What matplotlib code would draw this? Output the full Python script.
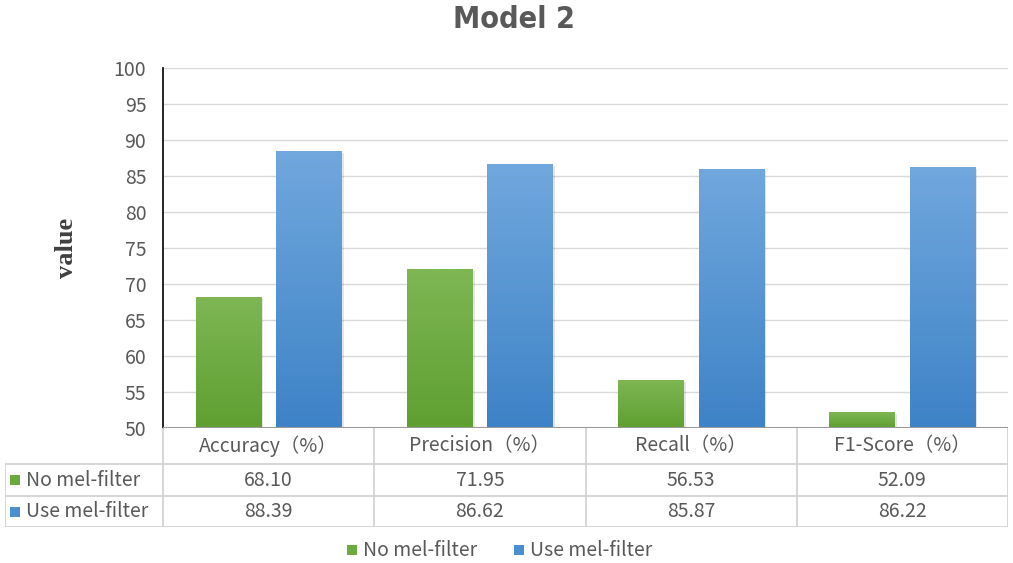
import numpy as np
import matplotlib
matplotlib.use("Agg")
import matplotlib.pyplot as plt
from matplotlib.colors import LinearSegmentedColormap
from matplotlib.patches import Rectangle

CJK = ['Noto Sans CJK SC', 'DejaVu Sans']
plt.rcParams['font.family'] = CJK
TXT = '#595959'

categories = ['Accuracy（%）', 'Precision（%）', 'Recall（%）', 'F1-Score（%）']
series_names = ['No mel-filter', 'Use mel-filter']
no_mel = [68.10, 71.95, 56.53, 52.09]
use_mel = [88.39, 86.62, 85.87, 86.22]
yticks = list(range(50, 101, 5))

grad = {
    'No mel-filter': ('#7db653', '#5f9f31'),
    'Use mel-filter': ('#70a7dd', '#3e83c7'),
}
key_col = {'No mel-filter': '#6aaa3e', 'Use mel-filter': '#4a8fd2'}

W, H = 1013, 563
fig = plt.figure(figsize=(W / 100, H / 100), dpi=100)

# main plot area (pixels: x 163..1008, y 68..428)
ax = fig.add_axes([163 / W, 1 - 428 / H, 845 / W, 360 / H])
ax.set_xlim(-0.5, 3.5)
ax.set_ylim(50, 100)
ax.set_yticks(yticks)
ax.set_yticklabels([str(t) for t in yticks], fontsize=14, color=TXT)
ax.set_xticks([])
ax.tick_params(axis='y', length=0, pad=12)
for s in ['top', 'right', 'bottom']:
    ax.spines[s].set_visible(False)
ax.spines['left'].set_color('black')
ax.spines['left'].set_linewidth(1.2)
ax.grid(axis='y', color='#d9d9d9', linewidth=1)
ax.set_axisbelow(True)

bw = 0.31
off = 0.19
x = np.arange(len(categories))
for vals, name, sgn in [(no_mel, series_names[0], -1), (use_mel, series_names[1], 1)]:
    top, bot = grad[name]
    cmap = LinearSegmentedColormap.from_list(name, [bot, top])
    for xi, v in zip(x, vals):
        x0 = xi + sgn * off - bw / 2
        # soft shadow
        ax.add_patch(Rectangle((x0 + 0.01, 50), bw, v - 50 - 0.2, color='#000000', alpha=0.10, lw=0, zorder=2))
        img = np.linspace(1, 0, 64).reshape(-1, 1)
        ax.imshow(img, cmap=cmap, aspect='auto', extent=[x0, x0 + bw, 50, v], zorder=3)
ax.set_xlim(-0.5, 3.5)
ax.set_ylim(50, 100)
ax.axhline(50, color='#9a9a9a', linewidth=1.5, zorder=4)

ax.set_ylabel('value', fontsize=19, fontweight='bold', family=['Liberation Serif', 'DejaVu Serif'],
              color='#404040', labelpad=26)

fig.text(0.507, 1 - 20 / H, 'Model 2', ha='center', va='center', fontsize=22, fontweight='bold',
         fontstretch='condensed', family=['DejaVu Sans'], color='#595959')

# data table below the axis (pixels: x 5..1008, y 428..527)
left_w = 158 / 211.25
tab = fig.add_axes([5 / W, 1 - 527 / H, 1003 / W, 99 / H])
tab.set_xlim(-0.5 - left_w, 3.5)
tab.set_ylim(0, 99)
tab.axis('off')
row_y = [99, 63, 31, 0]  # header, row1, row2 borders (top->bottom)
lc = '#d0d0d0'
x_left = -0.5 - left_w
for yy in row_y[1:]:
    tab.plot([x_left, 3.5], [yy, yy], color=lc, lw=1.2)
tab.plot([x_left] * 2, [row_y[3], row_y[1]], color=lc, lw=1.2)
for b in np.arange(len(categories) + 1) - 0.5:
    tab.plot([b, b], [0, 99], color=lc, lw=1.2)

px = 1 / 211.25  # data units per pixel in x
for xi, c in zip(x, categories):
    tab.text(xi, (row_y[0] + row_y[1]) / 2, c, ha='center', va='center', fontsize=14, color=TXT)
for r, (name, vals) in enumerate([(series_names[0], no_mel), (series_names[1], use_mel)]):
    yc = (row_y[r + 1] + row_y[r + 2]) / 2
    tab.add_patch(Rectangle((x_left + 5 * px, yc - 5), 10 * px, 10, color=key_col[name], lw=0))
    tab.text(x_left + 21 * px, yc, name, ha='left', va='center', fontsize=14, color=TXT)
    for xi, v in zip(x, vals):
        tab.text(xi, yc, f'{v:.2f}', ha='center', va='center', fontsize=14, color=TXT)

# legend at the bottom
lg_y = 1 - 550 / H
for kx, name in [(347, series_names[0]), (514, series_names[1])]:
    fig.patches.append(Rectangle((kx / W, lg_y - 5 / H), 10 / W, 10 / H, color=key_col[name], lw=0,
                                 transform=fig.transFigure, figure=fig))
    fig.text((kx + 16) / W, lg_y, name, ha='left', va='center', fontsize=14, color=TXT)

plt.savefig('out.png', dpi=100)
